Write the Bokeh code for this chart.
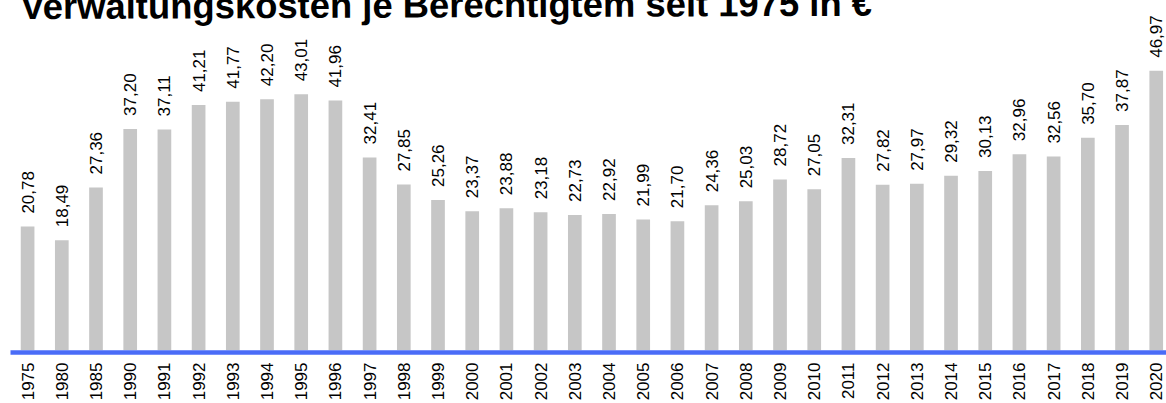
import math
from bokeh.plotting import figure
from bokeh.models import ColumnDataSource, Range1d, Label, FixedTicker
from bokeh.core.properties import value
from bokeh.embed import file_html
from bokeh.resources import INLINE

years = ["1975", "1980", "1985", "1990", "1991", "1992", "1993", "1994", "1995",
         "1996", "1997", "1998", "1999", "2000", "2001", "2002", "2003", "2004",
         "2005", "2006", "2007", "2008", "2009", "2010", "2011", "2012", "2013",
         "2014", "2015", "2016", "2017", "2018", "2019", "2020"]
costs = [20.78, 18.49, 27.36, 37.20, 37.11, 41.21, 41.77, 42.20, 43.01, 41.96,
         32.41, 27.85, 25.26, 23.37, 23.88, 23.18, 22.73, 22.92, 21.99, 21.70,
         24.36, 25.03, 28.72, 27.05, 32.31, 27.82, 27.97, 29.32, 30.13, 32.96,
         32.56, 35.70, 37.87, 46.97]
title_text = "Verwaltungskosten je Berechtigtem seit 1975 in €"

idx = list(range(len(years)))
labels = [f"{v:.2f}".replace(".", ",") for v in costs]
src = ColumnDataSource(dict(x=idx, top=costs, lab=labels))

FONT = "Liberation Sans"

p = figure(width=1174, height=411, output_backend="svg", toolbar_location=None,
           x_range=Range1d(-0.5, 33.3), y_range=Range1d(-0.378, 60.13),
           min_border_left=18, min_border_right=0, min_border_top=0,
           min_border_bottom=0)
p.styles = {"margin": "-8px 0 -8px -8px"}
p.outline_line_color = None
p.background_fill_color = "white"
p.border_fill_color = "white"
p.grid.visible = False
p.yaxis.visible = False

p.vbar(x="x", top="top", bottom=0, width=0.4, source=src,
       fill_color="#c6c6c6", line_color=None)

p.text(x="x", y="top", text="lab", source=src, angle=math.pi / 2,
       text_align="left", text_baseline="middle", y_offset=-13,
       text_font=value(FONT), text_font_size="17px", text_color="black")

ax = p.xaxis[0]
ax.ticker = FixedTicker(ticks=idx)
ax.major_label_overrides = {i: y for i, y in zip(idx, years)}
ax.major_label_orientation = math.pi / 2
ax.major_label_text_font = FONT
ax.major_label_text_font_size = "17px"
ax.major_label_text_color = "black"
ax.major_label_standoff = 10
ax.major_tick_out = 0
ax.major_tick_in = 0
ax.major_tick_line_color = None
ax.minor_tick_line_color = None
ax.axis_line_color = "#4a6cf7"
ax.axis_line_width = 4.5

p.add_layout(Label(x=10, y=346, x_units="screen", y_units="screen",
                   angle=0.0039,
                   text=title_text, text_font=FONT, text_font_size="36.4px",
                   text_font_style="bold", text_color="black",
                   text_baseline="alphabetic"))

open("out.html", "w").write(file_html(p, INLINE))
